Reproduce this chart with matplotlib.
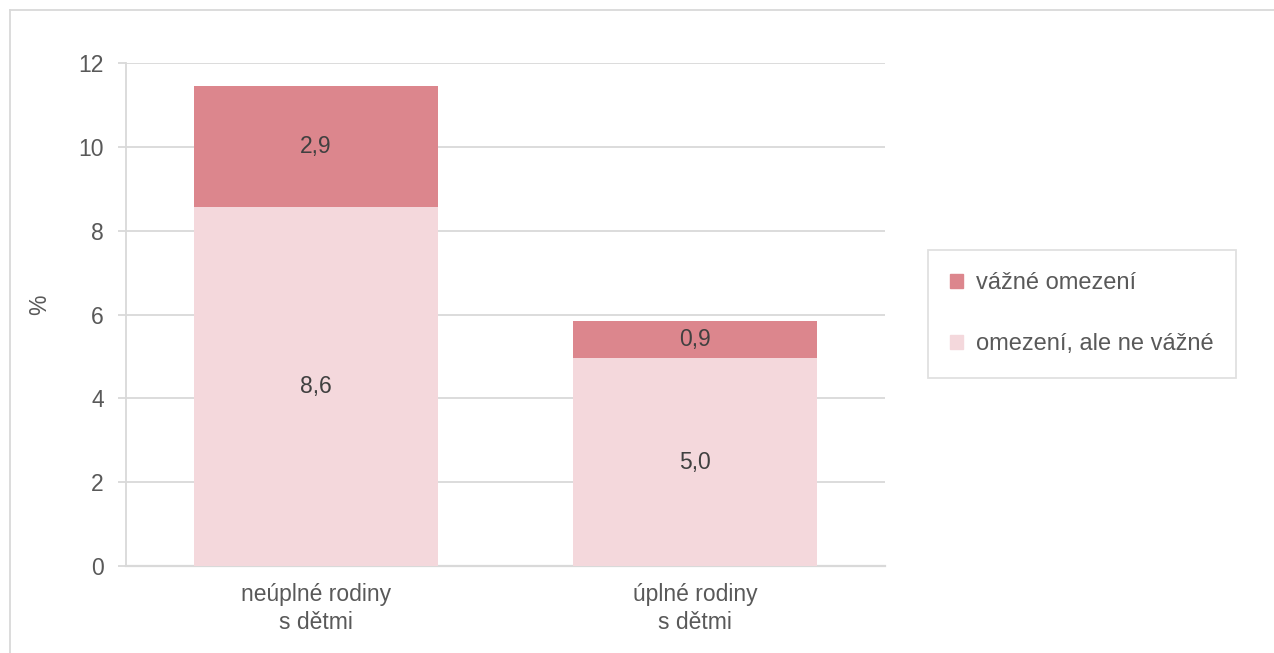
import numpy as np
import matplotlib.pyplot as plt
from matplotlib.lines import Line2D
from matplotlib.patches import Patch

plt.rcParams['font.family'] = ['Liberation Sans', 'DejaVu Sans']

# data
categories = ['neúplné rodiny\ns dětmi', 'úplné rodiny\ns dětmi']
mild = [8.56, 4.96]      # omezení, ale ne vážné
severe = [2.89, 0.88]    # vážné omezení
yticks = [0, 2, 4, 6, 8, 10, 12]

col_severe = '#DC868D'
col_mild = '#F4D8DC'
grid_col = '#D9D9D9'
txt_col = '#595959'
fs = 16.5

fig = plt.figure(figsize=(12.74, 6.53), dpi=100)
ax = fig.add_axes([0.0989, 0.1332, 0.5958, 0.7703])

x = np.arange(len(categories))
w = 0.643
ax.bar(x, mild, w, color=col_mild, zorder=3)
ax.bar(x, severe, w, bottom=mild, color=col_severe, zorder=3)

for i in range(len(x)):
    ax.text(x[i], mild[i] / 2, f'{mild[i]:.1f}'.replace('.', ','), ha='center', va='center',
            fontsize=fs, color='#404040', zorder=4)
    ax.text(x[i], mild[i] + severe[i] / 2, f'{severe[i]:.1f}'.replace('.', ','), ha='center',
            va='center', fontsize=fs, color='#404040', zorder=4)

ax.set_xlim(-0.5, 1.5)
ax.set_ylim(0, 12)
ax.set_yticks(yticks)
ax.set_yticklabels([str(t) for t in yticks])
ax.set_xticks(x)
ax.set_xticklabels(categories, linespacing=1.3)
ax.yaxis.grid(True, color=grid_col, linewidth=1.3, zorder=0)
ax.set_axisbelow(True)
ax.tick_params(axis='y', length=6, width=1.3, color=grid_col, labelsize=fs, labelcolor=txt_col, pad=10)
ax.tick_params(axis='x', length=0, labelsize=fs, labelcolor=txt_col, pad=12)
for s in ['top', 'right']:
    ax.spines[s].set_visible(False)
ax.spines['left'].set_color(grid_col)
ax.spines['left'].set_linewidth(1.3)
ax.spines['bottom'].set_color(grid_col)
ax.spines['bottom'].set_linewidth(1.6)

fig.text(40 / 1274, 1 - 305 / 653, '%', rotation=90, ha='center', va='center', fontsize=fs, color=txt_col)

handles = [Patch(color=col_severe), Patch(color=col_mild)]
leg = fig.legend(handles, ['vážné omezení', 'omezení, ale ne vážné'], loc='upper left',
                 bbox_to_anchor=(928 / 1274, 1 - 250 / 653), fontsize=17, frameon=True,
                 fancybox=False, edgecolor=grid_col, handlelength=0.55, handleheight=0.55,
                 handletextpad=0.55, labelspacing=1.65, borderpad=0.95, borderaxespad=0,
                 labelcolor=txt_col)
leg.get_frame().set_linewidth(1.3)

# outer border
fig.add_artist(Line2D([10 / 1274, 10 / 1274], [0, 1 - 10 / 653], color=grid_col, lw=1.3,
                      transform=fig.transFigure))
fig.add_artist(Line2D([10 / 1274, 1], [1 - 10 / 653, 1 - 10 / 653], color=grid_col, lw=1.3,
                      transform=fig.transFigure))

fig.savefig('out.png', dpi=100)
